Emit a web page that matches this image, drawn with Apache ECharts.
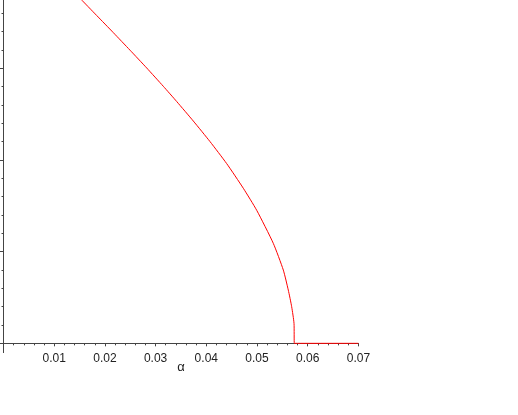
<!DOCTYPE html>
<html>
<head>
	<meta charset="UTF-8">
	<title>alpha curve</title>
	<script src="https://cdn.jsdelivr.net/npm/echarts@6/dist/echarts.min.js"></script>
	<style>
		body { margin: 0; background: #fff; }
	</style>
</head>

<body>
	<div id="main" style="width: 518px; height: 415px;"></div>
	<script>
		// values
		var alphaVals = [0.01542, 0.01838, 0.02166, 0.02495, 0.02824, 0.03152, 0.03416, 0.03744, 0.04073, 0.04402, 0.04730, 0.04994, 0.05321, 0.05519, 0.05617, 0.05684, 0.05730, 0.05736, 0.07];
		var yVals = [3.744, 3.575, 3.388, 3.197, 3.003, 2.803, 2.637, 2.424, 2.200, 1.960, 1.691, 1.451, 1.091, 0.799, 0.581, 0.399, 0.218, 0, 0];
		var xTickLabels = ['0.01', '0.02', '0.03', '0.04', '0.05', '0.06', '0.07'];
		var yMajorTicks = [0, 1, 2, 3];
		var yMinorTicks = [0.2, 0.4, 0.6, 0.8, 1.2, 1.4, 1.6, 1.8, 2.2, 2.4, 2.6, 2.8, 3.2, 3.4, 3.6];

		var myChart = echarts.init(document.getElementById('main'));

		var data = [];
		for (var i = 0; i < alphaVals.length; i++) {
			data.push([alphaVals[i], yVals[i]]);
		}

		var axisColor = '#444';
		var textColor = '#222';
		var yBase = {
			type : 'value',
			min : -0.1,
			max : 3.744,
			position : 'left',
			axisLine : { show : true, onZero : false, lineStyle : { color : axisColor, width : 1 } },
			axisLabel : { show : false },
			splitLine : { show : false }
		};

		var option = {
			animation : false,
			grid : {
				left : 3.5,
				right : 159.6,
				top : 0,
				bottom : 62.5
			},
			xAxis : {
				type : 'value',
				min : 0,
				max : 0.07,
				interval : 0.01,
				name : 'α',
				nameLocation : 'middle',
				nameGap : 8,
				nameMoveOverlap : false,
				nameTextStyle : { color : textColor, fontSize : 13, fontFamily : 'Liberation Sans' },
				axisLine : { onZero : true, lineStyle : { color : axisColor, width : 1 } },
				axisTick : { show : true, length : 3, lineStyle : { color : axisColor } },
				minorTick : { show : true, splitNumber : 5, length : 2, lineStyle : { color : axisColor } },
				axisLabel : {
					margin : 0,
					color : textColor,
					fontSize : 12,
					fontFamily : 'Liberation Sans',
					formatter : function(v) {
						var s = v.toFixed(2);
						return xTickLabels.indexOf(s) >= 0 ? s : '';
					}
				},
				splitLine : { show : false }
			},
			yAxis : [
				Object.assign({}, yBase, {
					axisTick : { show : true, length : 3.5, customValues : yMajorTicks, lineStyle : { color : axisColor } }
				}),
				Object.assign({}, yBase, {
					axisTick : { show : true, length : 2, customValues : yMinorTicks, lineStyle : { color : axisColor } }
				})
			],
			series : [ {
				type : 'line',
				yAxisIndex : 0,
				data : data,
				smooth : 0.2,
				showSymbol : false,
				lineStyle : { color : '#ff0000', width : 1 },
				z : 5
			} ]
		};
		myChart.setOption(option);
	</script>
</body>
</html>
